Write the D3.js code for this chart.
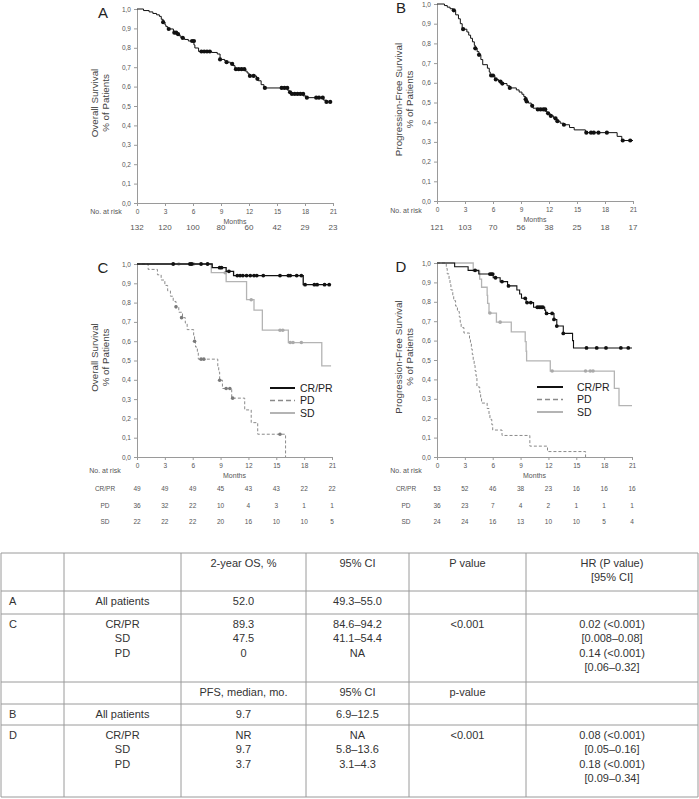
<!DOCTYPE html>
<html><head><meta charset="utf-8">
<script src="https://cdn.jsdelivr.net/npm/d3@7"></script>
<style>body{margin:0;background:#fff}svg{display:block}</style>
</head><body><svg id="c" width="699" height="799"></svg>
<script>
// ---------- DATA ----------
const monthTicks = [0,3,6,9,12,15,18,21];
const yTickValues = [0,0.1,0.2,0.3,0.4,0.5,0.6,0.7,0.8,0.9,1.0];
const yTickLabels = ["0,0","0,1","0,2","0,3","0,4","0,5","0,6","0,7","0,8","0,9","1,0"];
const groupNames = ["CR/PR","PD","SD"];

// Panel A: overall survival, all patients  [month, survival]
const osAllSteps = [[0.7,0.992],[1.3,0.985],[1.7,0.977],[2.1,0.970],[2.4,0.962],[2.6,0.947],[2.8,0.932],[3.0,0.918],[3.1,0.909],[3.3,0.897],[3.9,0.886],[4.0,0.878],[4.3,0.870],[4.5,0.862],[4.7,0.851],[5.1,0.843],[5.5,0.835],[6.1,0.815],[6.2,0.799],[6.6,0.781],[8.0,0.776],[8.6,0.768],[8.9,0.740],[9.4,0.732],[9.6,0.726],[10.0,0.717],[10.3,0.708],[10.5,0.690],[11.6,0.680],[11.8,0.670],[12.0,0.655],[12.8,0.640],[13.0,0.630],[13.3,0.610],[13.6,0.593],[16.1,0.582],[16.3,0.571],[16.5,0.562],[17.8,0.552],[18.1,0.543],[20.0,0.530],[20.3,0.521]];
const osAllCensors = [[2.8,0.932],[3.4,0.897],[4.0,0.878],[4.2,0.878],[4.4,0.870],[4.9,0.851],[5.9,0.835],[6.1,0.835],[6.9,0.781],[7.2,0.781],[7.5,0.781],[7.8,0.781],[8.9,0.740],[9.6,0.726],[10.2,0.717],[10.6,0.690],[10.9,0.690],[11.2,0.690],[11.5,0.690],[12.1,0.655],[12.5,0.655],[12.9,0.640],[13.7,0.593],[15.5,0.593],[15.8,0.593],[16.1,0.593],[16.4,0.571],[16.6,0.562],[16.9,0.562],[17.2,0.562],[17.5,0.562],[17.8,0.562],[18.2,0.543],[19.2,0.543],[19.5,0.543],[19.9,0.543],[20.3,0.521],[20.7,0.521]];
const osAllEnd = 20.9;
const riskA = [132,120,100,80,60,42,29,23];

// Panel B: progression-free survival, all patients
const pfsAllSteps = [[0.8,0.992],[1.1,0.984],[1.4,0.976],[1.7,0.968],[2.0,0.945],[2.3,0.925],[2.5,0.900],[2.7,0.872],[3.2,0.858],[3.4,0.842],[3.6,0.826],[3.8,0.808],[4.0,0.790],[4.1,0.775],[4.3,0.758],[4.5,0.742],[4.7,0.718],[4.9,0.692],[5.4,0.674],[5.6,0.655],[5.7,0.637],[6.2,0.617],[6.6,0.606],[6.9,0.596],[7.5,0.585],[7.8,0.574],[8.5,0.564],[8.8,0.553],[9.1,0.542],[9.3,0.530],[9.5,0.517],[9.6,0.505],[9.8,0.497],[10.1,0.483],[10.3,0.471],[10.7,0.465],[11.6,0.455],[11.8,0.445],[12.1,0.432],[12.5,0.419],[12.8,0.405],[13.2,0.395],[13.6,0.387],[14.2,0.373],[14.7,0.361],[15.9,0.347],[19.3,0.328],[19.8,0.307]];
const pfsAllCensors = [[1.8,0.968],[2.8,0.872],[4.1,0.775],[4.5,0.742],[5.8,0.637],[6.0,0.637],[6.3,0.617],[6.8,0.606],[7.0,0.596],[7.8,0.574],[9.5,0.517],[9.6,0.505],[10.2,0.483],[10.8,0.465],[11.1,0.465],[11.4,0.465],[11.6,0.465],[11.9,0.445],[12.2,0.432],[12.7,0.419],[12.9,0.405],[13.6,0.387],[16.0,0.347],[16.5,0.347],[16.8,0.347],[17.3,0.347],[18.2,0.347],[19.9,0.307],[20.7,0.307]];
const pfsAllEnd = 21.0;
const riskB = [121,103,70,56,38,25,18,17];

// Panel C: overall survival by response
const osCrprSteps = [[8.1,0.981],[9.6,0.962],[10.4,0.940],[17.9,0.893]];
const osCrprCensors = [[3.9,1],[5.7,1],[5.9,1],[6.9,1],[7.6,1],[8.9,0.981],[9.1,0.981],[9.9,0.962],[10.8,0.94],[11.1,0.94],[11.4,0.94],[11.8,0.94],[12.2,0.94],[12.6,0.94],[12.9,0.94],[13.6,0.94],[15.4,0.94],[16.3,0.94],[16.5,0.94],[17.2,0.94],[17.7,0.94],[18.1,0.893],[19.1,0.893],[19.4,0.893],[20.2,0.893],[20.7,0.893]];
const osSdSteps = [[8.0,0.955],[9.6,0.909],[11.8,0.815],[12.6,0.761],[13.5,0.657],[16.3,0.593],[19.9,0.472]];
const osSdCensors = [[4.5,1],[5.8,1],[6.1,1],[9.5,0.955],[12.3,0.815],[15.4,0.657],[15.7,0.657],[16.5,0.593],[16.8,0.593],[17.7,0.593]];
const osPdSteps = [[1.2,0.972],[2.2,0.944],[2.6,0.917],[3.0,0.889],[3.3,0.861],[3.6,0.833],[3.9,0.806],[4.2,0.778],[4.5,0.750],[4.9,0.722],[5.2,0.694],[5.4,0.660],[6.1,0.630],[6.2,0.600],[6.3,0.570],[6.5,0.540],[6.6,0.507],[8.7,0.470],[8.8,0.440],[8.9,0.398],[9.2,0.355],[10.2,0.305],[11.6,0.244],[12.3,0.178],[13.0,0.118],[16.0,0.0]];
const osPdCensors = [[4.2,0.778],[4.8,0.722],[6.2,0.600],[6.9,0.507],[7.2,0.507],[8.9,0.398],[9.6,0.355],[10.0,0.355],[10.3,0.305],[15.4,0.118]];
const riskCcrpr = [49,49,49,45,43,43,22,22];
const riskCpd = [36,32,22,10,4,3,1,1];
const riskCsd = [22,22,22,20,16,10,10,5];

// Panel D: progression-free survival by response
const pfsCrprSteps = [[1.9,0.981],[3.35,0.962],[4.5,0.943],[6.05,0.924],[6.8,0.904],[7.6,0.882],[8.6,0.861],[8.9,0.840],[9.1,0.818],[9.6,0.796],[10.4,0.772],[11.6,0.757],[11.7,0.740],[12.6,0.709],[12.9,0.675],[13.6,0.637],[14.6,0.600],[14.7,0.562]];
const pfsCrprCensors = [[4.1,0.962],[5.7,0.943],[5.85,0.943],[6.0,0.943],[6.3,0.924],[7.0,0.904],[7.7,0.882],[9.5,0.818],[9.7,0.796],[10.1,0.796],[10.8,0.772],[11.0,0.772],[11.2,0.772],[11.4,0.772],[11.8,0.740],[12.4,0.740],[12.6,0.709],[12.9,0.675],[13.6,0.637],[16.1,0.562],[17.2,0.562],[18.2,0.562],[19.8,0.562],[20.6,0.562]];
const pfsSdSteps = [[3.9,0.958],[4.6,0.917],[4.8,0.875],[5.4,0.833],[5.45,0.792],[5.6,0.742],[6.4,0.695],[8.0,0.645],[9.5,0.595],[9.6,0.545],[9.65,0.495],[12.2,0.443],[19.1,0.354],[19.6,0.265]];
const pfsSdCensors = [[5.7,0.742],[6.8,0.695],[12.4,0.443],[16.0,0.443],[16.5,0.443],[16.8,0.443]];
const pfsPdSteps = [[1.0,0.972],[1.1,0.944],[1.3,0.917],[1.4,0.889],[1.5,0.861],[1.7,0.833],[1.8,0.806],[2.0,0.778],[2.2,0.750],[2.4,0.722],[2.5,0.694],[2.6,0.667],[2.9,0.639],[3.5,0.611],[3.6,0.583],[3.7,0.556],[3.8,0.528],[3.9,0.500],[4.0,0.472],[4.1,0.444],[4.2,0.417],[4.3,0.361],[4.6,0.333],[4.7,0.306],[4.8,0.278],[5.4,0.250],[5.6,0.222],[5.7,0.194],[5.9,0.167],[6.0,0.139],[7.0,0.111],[10.0,0.056],[11.9,0.028],[16.0,0.0]];
const pfsPdCensors = [];
const riskDcrpr = [53,52,46,38,23,16,16,16];
const riskDpd = [36,23,7,4,2,1,1,1];
const riskDsd = [24,24,16,13,10,10,5,4];

// Table
const tableHeaderOS = ["","","2-year OS, %","95% CI","P value","HR (P value)\n[95% CI]"];
const tableRowA = ["A","All patients","52.0","49.3–55.0","",""];
const tableRowC = ["C","CR/PR\nSD\nPD","89.3\n47.5\n0","84.6–94.2\n41.1–54.4\nNA","<0.001","0.02 (<0.001)\n[0.008–0.08]\n0.14 (<0.001)\n[0.06–0.32]"];
const tableHeaderPFS = ["","","PFS, median, mo.","95% CI","p-value",""];
const tableRowB = ["B","All patients","9.7","6.9–12.5","",""];
const tableRowD = ["D","CR/PR\nSD\nPD","NR\n9.7\n3.7","NA\n5.8–13.6\n3.1–4.3","<0.001","0.08 (<0.001)\n[0.05–0.16]\n0.18 (<0.001)\n[0.09–0.34]"];

// ---------- DRAW ----------
const svg = d3.select("#c");
svg.append("rect").attr("width",699).attr("height",799).attr("fill","#fff");
const AX = "#9a9a9a", TXT = "#555";
const colors = {"CR/PR":"#111","PD":"#8a8a8a","SD":"#b4b4b4"};
const dotColors = {"CR/PR":"#111","PD":"#7a7a7a","SD":"#aaaaaa"};

function panel(o){
  const g = svg.append("g");
  const x = d3.scaleLinear().domain([0,21]).range([o.x0,o.x1]);
  const y = d3.scaleLinear().domain([0,1]).range([o.yb,o.yt]);
  const ya = g.append("g").attr("transform",`translate(${o.x0},0)`)
    .call(d3.axisLeft(y).tickValues(yTickValues).tickFormat((d,i)=>yTickLabels[i]).tickSize(3).tickPadding(3));
  const xa = g.append("g").attr("transform",`translate(0,${o.yb})`)
    .call(d3.axisBottom(x).tickValues(monthTicks).tickSize(3).tickPadding(3));
  [ya,xa].forEach(a=>{
    a.selectAll("path,line").attr("stroke",AX).attr("stroke-width",1);
    a.selectAll("text").attr("fill",TXT).style("font-family","Liberation Sans, Arial").style("font-size","6.5px");
  });
  g.append("text").attr("x",(o.x0+o.x1)/2).attr("y",o.yb+21).attr("text-anchor","middle")
    .attr("fill",TXT).style("font-family","Liberation Sans, Arial").style("font-size","7px").text("Months");
  g.append("text").attr("x",o.letterX).attr("y",o.yt+9).attr("text-anchor","middle")
    .attr("fill","#222").style("font-family","Liberation Sans, Arial").style("font-size","15px").text(o.letter);
  const cy = (o.yt+o.yb)/2 - 3;
  o.ytitle.forEach((t,i)=>{
    g.append("text").attr("transform",`translate(${o.titleX + i*11},${cy}) rotate(-90)`)
      .attr("text-anchor","middle").attr("dominant-baseline","middle")
      .attr("fill","#444").style("font-family","Liberation Sans, Arial").style("font-size","9.8px").text(t);
  });
  const line = d3.line().x(d=>x(d[0])).y(d=>y(d[1])).curve(d3.curveStepAfter);
  o.series.forEach(s=>{
    const pts = [[0,1]].concat(s.steps);
    const last = pts[pts.length-1];
    if (s.end !== undefined && s.end > last[0]) pts.push([s.end,last[1]]);
    g.append("path").datum(pts).attr("d",line).attr("fill","none")
      .attr("stroke",s.color).attr("stroke-width",s.width)
      .attr("stroke-dasharray",s.dash||null);
    g.selectAll(null).data(s.censors).enter().append("circle")
      .attr("cx",d=>x(d[0])).attr("cy",d=>y(d[1])).attr("r",s.r).attr("fill",s.dot);
  });
  g.append("text").attr("x",o.riskLabelX).attr("y",o.riskLabelY).attr("text-anchor","middle")
    .attr("dominant-baseline","middle").attr("fill",TXT)
    .style("font-family","Liberation Sans, Arial").style("font-size","7px").text("No. at risk");
  o.risk.forEach((r)=>{
    if (r.name) g.append("text").attr("x",o.riskLabelX).attr("y",r.y).attr("text-anchor","middle")
      .attr("dominant-baseline","middle").attr("fill",TXT)
      .style("font-family","Liberation Sans, Arial").style("font-size","6.5px").text(r.name);
    g.selectAll(null).data(r.values).enter().append("text")
      .attr("x",(d,i)=>x(monthTicks[i])).attr("y",r.y).attr("text-anchor","middle")
      .attr("dominant-baseline","middle").attr("fill",TXT)
      .style("font-family","Liberation Sans, Arial").style("font-size",r.size).text(d=>d);
  });
  if (o.legend){
    groupNames.forEach((n,i)=>{
      const ly = o.legend.y + i*12.5;
      g.append("line").attr("x1",o.legend.x1).attr("x2",o.legend.x2).attr("y1",ly).attr("y2",ly)
        .attr("stroke",colors[n]).attr("stroke-width",n==="PD"?1.6:2)
        .attr("stroke-dasharray",n==="PD"?"5,3":null);
      g.append("text").attr("x",o.legend.tx).attr("y",ly+3.5)
        .attr("fill","#222").style("font-family","Liberation Sans, Arial").style("font-size","10.5px").text(n);
    });
  }
}

panel({x0:137,x1:333,yt:9,yb:203,letter:"A",letterX:103,titleX:95,ytitle:["Overall Survival","% of Patients"],
  series:[{steps:osAllSteps,censors:osAllCensors,end:osAllEnd,color:"#111",width:1,dot:"#111",r:2.1}],
  riskLabelX:106,riskLabelY:212,risk:[{values:riskA,y:228,size:"8px"}]});
panel({x0:437,x1:633,yt:4,yb:201,letter:"B",letterX:401,titleX:399,ytitle:["Progression-Free Survival","% of Patients"],
  series:[{steps:pfsAllSteps,censors:pfsAllCensors,end:pfsAllEnd,color:"#111",width:1,dot:"#111",r:2.1}],
  riskLabelX:406,riskLabelY:211,risk:[{values:riskB,y:228,size:"8px"}]});
panel({x0:137,x1:332,yt:264,yb:457,letter:"C",letterX:103,titleX:95,ytitle:["Overall Survival","% of Patients"],
  series:[
    {steps:osSdSteps,censors:osSdCensors,end:20.9,color:colors.SD,width:1.3,dot:dotColors.SD,r:1.8},
    {steps:osPdSteps,censors:osPdCensors,color:colors.PD,width:1,dash:"3,2",dot:dotColors.PD,r:1.8},
    {steps:osCrprSteps,censors:osCrprCensors,end:20.9,color:colors["CR/PR"],width:1.3,dot:dotColors["CR/PR"],r:1.9}],
  riskLabelX:105,riskLabelY:471,
  risk:[{name:"CR/PR",values:riskCcrpr,y:489,size:"6.5px"},{name:"PD",values:riskCpd,y:506,size:"6.5px"},{name:"SD",values:riskCsd,y:522,size:"6.5px"}],
  legend:{x1:270,x2:295,tx:300,y:388}});
panel({x0:437,x1:632,yt:263,yb:457,letter:"D",letterX:401,titleX:399,ytitle:["Progression-Free Survival","% of Patients"],
  series:[
    {steps:pfsSdSteps,censors:pfsSdCensors,end:21.0,color:colors.SD,width:1.3,dot:dotColors.SD,r:1.8},
    {steps:pfsPdSteps,censors:pfsPdCensors,color:colors.PD,width:1,dash:"3,2",dot:dotColors.PD,r:1.8},
    {steps:pfsCrprSteps,censors:pfsCrprCensors,end:21.0,color:colors["CR/PR"],width:1.1,dot:dotColors["CR/PR"],r:1.9}],
  riskLabelX:406,riskLabelY:471,
  risk:[{name:"CR/PR",values:riskDcrpr,y:489,size:"6.5px"},{name:"PD",values:riskDpd,y:506,size:"6.5px"},{name:"SD",values:riskDsd,y:522,size:"6.5px"}],
  legend:{x1:537,x2:563,tx:577,y:387}});

// ---------- TABLE ----------
const colX = [1,64,181,306,409,526,698];
const rowY = [553,591,614,682,704,725,797];
const rows = [tableHeaderOS,tableRowA,tableRowC,tableHeaderPFS,tableRowB,tableRowD];
const tg = svg.append("g");
rowY.forEach(yv=>tg.append("line").attr("x1",colX[0]).attr("x2",colX[colX.length-1]).attr("y1",yv).attr("y2",yv).attr("stroke","#9a9a9a").attr("stroke-width",1));
colX.forEach(xv=>tg.append("line").attr("x1",xv).attr("x2",xv).attr("y1",rowY[0]).attr("y2",rowY[rowY.length-1]).attr("stroke","#9a9a9a").attr("stroke-width",1));
rows.forEach((r,ri)=>{
  const top = rowY[ri];
  r.forEach((cell,ci)=>{
    if(!cell) return;
    cell.split("\n").forEach((ln,li)=>{
      tg.append("text")
        .attr("x", ci===0 ? colX[0]+8 : (colX[ci]+colX[ci+1])/2)
        .attr("y", top + 11 + li*14.5)
        .attr("text-anchor", ci===0 ? "start" : "middle")
        .attr("dominant-baseline","middle").attr("fill","#333")
        .style("font-family","Liberation Sans, Arial").style("font-size","11px").text(ln);
    });
  });
});
</script></body></html>
